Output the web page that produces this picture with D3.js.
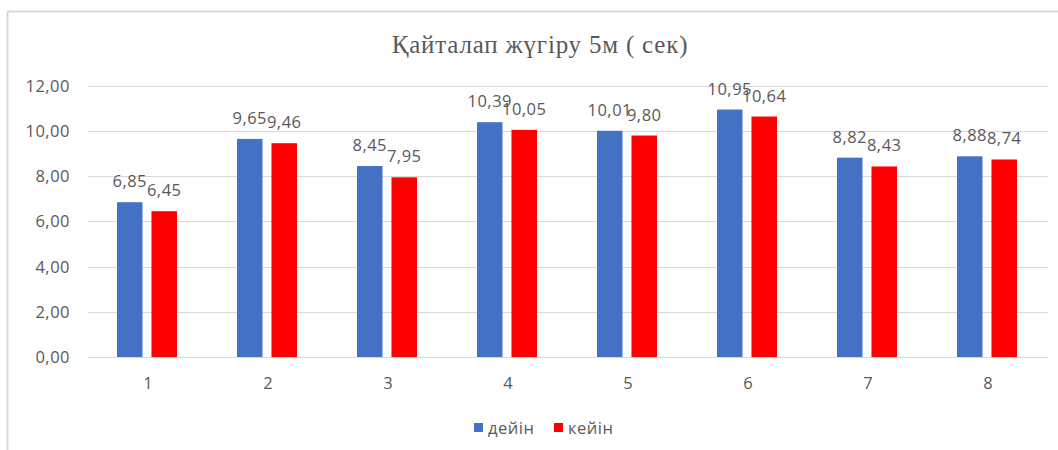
<!DOCTYPE html>
<html>
<head>
<meta charset="utf-8">
<script src="https://cdn.jsdelivr.net/npm/d3@7"></script>
<style>
  body { margin: 0; background: #fff; }
  svg { display: block; }
</style>
</head>
<body>
<svg id="chart" width="1058" height="450"></svg>
<script>
const categories = ["1", "2", "3", "4", "5", "6", "7", "8"];
const seriesNames = ["дейін", "кейін"];
const before = [6.85, 9.65, 8.45, 10.39, 10.01, 10.95, 8.82, 8.88];
const after = [6.45, 9.46, 7.95, 10.05, 9.80, 10.64, 8.43, 8.74];
const yTicks = [0, 2, 4, 6, 8, 10, 12];
const colors = ["#4472C4", "#FF0000"];
const title = "Қайталап жүгіру 5м ( сек)";

const svg = d3.select("#chart");
const W = 1058, H = 450;
const font = "'Open Sans', Lato, sans-serif";
const textColor = "#595959";
const fs = 16.5, ls = 0.5;

// chart border (top and left visible)
svg.append("line").attr("x1", 7.5).attr("x2", W).attr("y1", 11.5).attr("y2", 11.5)
  .attr("stroke", "#d9d9d9").attr("stroke-width", 2);
svg.append("line").attr("x1", 7.5).attr("x2", 7.5).attr("y1", 11.5).attr("y2", H)
  .attr("stroke", "#d9d9d9").attr("stroke-width", 2);

const plot = { left: 88, right: 1048, top: 85, bottom: 357 };

const x = d3.scaleBand().domain(categories).range([plot.left, plot.right]).paddingInner(0).paddingOuter(0);
const y = d3.scaleLinear().domain([0, 12]).range([plot.bottom, plot.bottom - 12 * 22.6]);

// gridlines
svg.append("g").selectAll("line").data(yTicks).join("line")
  .attr("x1", plot.left).attr("x2", plot.right)
  .attr("y1", d => Math.round(y(d)) + 0.5).attr("y2", d => Math.round(y(d)) + 0.5)
  .attr("stroke", "#d9d9d9").attr("stroke-width", 1);

// y labels
const fmt = d => d.toFixed(2).replace(".", ",");
svg.append("g").selectAll("text").data(yTicks).join("text")
  .attr("x", 70).attr("y", d => y(d) + 6)
  .attr("text-anchor", "end")
  .attr("font-family", font).attr("font-size", fs).attr("letter-spacing", ls).attr("fill", textColor)
  .text(fmt);

// x labels
svg.append("g").selectAll("text").data(categories).join("text")
  .attr("x", d => x(d) + x.bandwidth() / 2).attr("y", 389)
  .attr("text-anchor", "middle")
  .attr("font-family", font).attr("font-size", fs).attr("fill", textColor)
  .text(d => d);

// bars
const inner = d3.scaleBand().domain([0, 1]).range([0, 60]).paddingInner(0.26);
const series = [before, after];
const offset = (x.bandwidth() - 60) / 2 - 1;

series.forEach((vals, si) => {
  const g = svg.append("g");
  g.selectAll("rect").data(vals).join("rect")
    .attr("x", (d, i) => x(categories[i]) + offset + inner(si))
    .attr("y", d => y(d))
    .attr("width", inner.bandwidth())
    .attr("height", d => y(0) - y(d))
    .attr("fill", colors[si]);
  g.selectAll("text").data(vals).join("text")
    .attr("x", (d, i) => x(categories[i]) + offset + inner(si) + inner.bandwidth() / 2)
    .attr("y", d => y(d) - 15)
    .attr("text-anchor", "middle")
    .attr("font-family", font).attr("font-size", fs).attr("letter-spacing", ls).attr("fill", textColor)
    .text(fmt);
});

// title
svg.append("text").attr("x", 540).attr("y", 53)
  .attr("text-anchor", "middle")
  .attr("font-family", "'Liberation Serif', 'DejaVu Serif', serif")
  .attr("font-size", 25).attr("letter-spacing", 0.8).attr("fill", textColor)
  .text(title);

// legend
const legendX = [474, 554];
seriesNames.forEach((n, i) => {
  svg.append("rect").attr("x", legendX[i]).attr("y", 423).attr("width", 9).attr("height", 9).attr("fill", colors[i]);
  svg.append("text").attr("x", legendX[i] + 14).attr("y", 434)
    .attr("font-family", font).attr("font-size", fs).attr("letter-spacing", ls).attr("fill", textColor)
    .text(n);
});
</script>
</body>
</html>
